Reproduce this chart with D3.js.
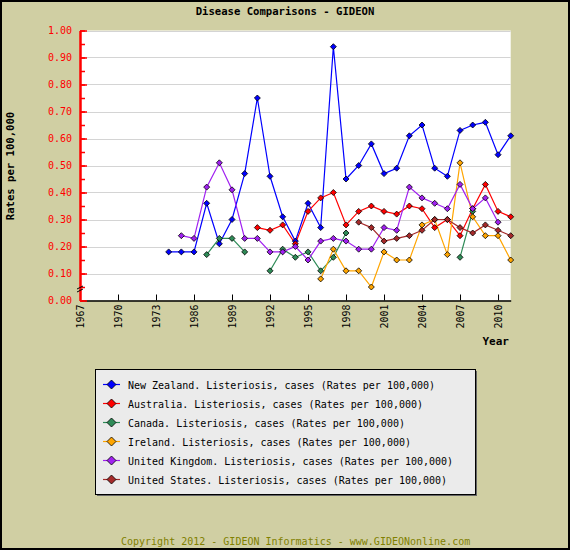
<!DOCTYPE html>
<html>
<head>
<meta charset="utf-8">
<script src="https://cdn.jsdelivr.net/npm/d3@7"></script>
<style>
  body { margin: 0; background: #fff; }
  svg { display: block; }
  text { font-family: "DejaVu Sans Mono", monospace; }
</style>
</head>
<body>
<svg id="chart" width="570" height="550"></svg>
<script>
// categories (the axis only labels every third one)
var years = ["1967","1968","1969","1970","1971","1972","1973","1984","1985",
  "1986","1987","1988","1989","1990","1991","1992","1993","1994","1995","1996",
  "1997","1998","1999","2000","2001","2002","2003","2004","2005","2006","2007",
  "2008","2009","2010","2011"];
var yTicks = [0, 0.1, 0.2, 0.3, 0.4, 0.5, 0.6, 0.7, 0.8, 0.9, 1.0];

var _ = null;
// one value per category, null = no data
var newZealand = [_,_,_,_,_,_,_, 0.18,0.18,0.18,0.36,0.21,0.30,0.47,0.75,0.46,0.31,0.22,0.36,0.27,
  0.94,0.45,0.50,0.58,0.47,0.49,0.61,0.65,0.49,0.46,0.63,0.65,0.66,0.54,0.61];
var australia = [_,_,_,_,_,_,_, _,_,_,_,_,_,_,0.27,0.26,0.28,0.21,0.33,0.38,
  0.40,0.28,0.33,0.35,0.33,0.32,0.35,0.34,0.27,0.30,0.24,0.34,0.43,0.33,0.31];
var canada = [_,_,_,_,_,_,_, _,_,_,0.17,0.23,0.23,0.18,_,0.11,0.19,0.16,0.18,0.11,
  0.16,0.25,_,_,_,_,_,_,_,_,0.16,0.33,_,_,_];
var ireland = [_,_,_,_,_,_,_, _,_,_,_,_,_,_,_,_,_,_,_,0.08,
  0.19,0.11,0.11,0.05,0.18,0.15,0.15,0.28,0.30,0.17,0.51,0.31,0.24,0.24,0.15];
var unitedKingdom = [_,_,_,_,_,_,_, _,0.24,0.23,0.42,0.51,0.41,0.23,0.23,0.18,0.18,0.20,0.15,0.22,
  0.23,0.22,0.19,0.19,0.27,0.26,0.42,0.38,0.36,0.34,0.43,0.34,0.38,0.29,_];
var unitedStates = [_,_,_,_,_,_,_, _,_,_,_,_,_,_,_,_,_,_,_,_,
  _,_,0.29,0.27,0.22,0.23,0.24,0.26,0.30,0.30,0.27,0.25,0.28,0.26,0.24];

var seriesNames = ["New Zealand", "Australia", "Canada", "Ireland", "United Kingdom", "United States"];
var seriesValues = [newZealand, australia, canada, ireland, unitedKingdom, unitedStates];
var seriesColors = ["#0000ff", "#ff0000", "#2e8b57", "#ffa500", "#a020f0", "#a52a2a"];

var W = 570, H = 550;
var svg = d3.select("#chart");

// background + frame
svg.append("rect").attr("x",0).attr("y",0).attr("width",W).attr("height",H)
  .attr("fill","#d0cfa3");
svg.append("rect").attr("x",1).attr("y",1).attr("width",W-2).attr("height",H-2)
  .attr("fill","none").attr("stroke","#000").attr("stroke-width",2);

var plotLeft = 80, plotRight = 510.7, plotTop = 30.5, plotBottom = 300.5;

var x = d3.scalePoint().domain(years).range([plotLeft, plotRight]);
var y = d3.scaleLinear().domain([0, 1]).range([plotBottom, plotTop]);

// plot area
svg.append("rect").attr("x",plotLeft).attr("y",plotTop)
  .attr("width",plotRight-plotLeft).attr("height",plotBottom-plotTop)
  .attr("fill","#fff");

// grid
svg.append("g").selectAll("line").data(yTicks.slice(1)).join("line")
  .attr("x1",plotLeft).attr("x2",plotRight)
  .attr("y1",function(d){return Math.round(y(d))+0.5;})
  .attr("y2",function(d){return Math.round(y(d))+0.5;})
  .attr("stroke","#d4d4d4").attr("stroke-width",1);

// title
svg.append("text").attr("x",W/2).attr("y",15).attr("text-anchor","middle")
  .attr("font-size",10.6).attr("font-weight","bold").text("Disease Comparisons - GIDEON");

// y axis title
svg.append("text").attr("transform","translate(14,166) rotate(-90)")
  .attr("text-anchor","middle").attr("font-size",10.6).attr("font-weight","bold")
  .text("Rates per 100,000");

// x axis
var labelled = years.filter(function(d,i){return i % 3 == 0;});
var xAxis = svg.append("g").attr("transform","translate(0,"+plotBottom+")")
  .call(d3.axisBottom(x).tickValues(labelled).tickSize(-6).tickSizeOuter(0));
xAxis.select(".domain").attr("stroke","#000").attr("stroke-width",1.5);
xAxis.selectAll(".tick line").attr("stroke","#000");
xAxis.selectAll(".tick text")
  .attr("transform","rotate(-90)").attr("x",-4).attr("y",0).attr("dy","0.35em")
  .attr("text-anchor","end").attr("font-size",10).attr("font-family","DejaVu Sans Mono")
  .attr("fill","#000");

svg.append("text").attr("x",509).attr("y",345).attr("text-anchor","end")
  .attr("font-size",11).attr("font-weight","bold").text("Year");

// y axis (red), minor then major ticks pointing inward
var yMinor = svg.append("g").attr("transform","translate("+plotLeft+",0)")
  .call(d3.axisLeft(y).ticks(20).tickSize(-5).tickSizeOuter(0).tickFormat(""));
yMinor.select(".domain").remove();
yMinor.selectAll(".tick line").attr("stroke","#ff0000").attr("stroke-width",1.5);

var yAxis = svg.append("g").attr("transform","translate("+plotLeft+",0)")
  .call(d3.axisLeft(y).tickValues(yTicks).tickSize(-7).tickSizeOuter(0)
    .tickPadding(8).tickFormat(d3.format(".2f")));
yAxis.select(".domain").attr("stroke","#ff0000").attr("stroke-width",2.5);
yAxis.selectAll(".tick line").attr("stroke","#ff0000").attr("stroke-width",1.5);
yAxis.selectAll(".tick text").attr("fill","#ff0000").attr("font-size",10)
  .attr("font-family","DejaVu Sans Mono");

// axis break mark
svg.append("path").attr("d","M77,289 L83,286 M77,292 L83,289")
  .attr("stroke","#000").attr("stroke-width",1).attr("fill","none");

// lines
var line = d3.line()
  .defined(function(d){return d != null;})
  .x(function(d,i){return x(years[i]);})
  .y(function(d){return y(d);});

function diamond(r) {
  return "M0,"+(-r)+"L"+r+",0L0,"+r+"L"+(-r)+",0Z";
}

seriesValues.forEach(function(vals, k) {
  svg.append("path").datum(vals).attr("d", line)
    .attr("fill","none").attr("stroke",seriesColors[k]).attr("stroke-width",1.2);
});
seriesValues.forEach(function(vals, k) {
  var pts = vals.map(function(v,i){return {v:v, i:i};}).filter(function(d){return d.v != null;});
  svg.append("g").selectAll("path").data(pts).join("path")
    .attr("transform",function(d){return "translate("+x(years[d.i])+","+y(d.v)+")";})
    .attr("d", diamond(3))
    .attr("fill",seriesColors[k]).attr("stroke","#000").attr("stroke-width",0.8);
});

// legend
var lgX = 95, lgY = 369, lgW = 380, lgH = 125;
svg.append("rect").attr("x",lgX+2).attr("y",lgY+2).attr("width",lgW).attr("height",lgH)
  .attr("fill","#666");
svg.append("rect").attr("x",lgX+0.5).attr("y",lgY+0.5).attr("width",lgW).attr("height",lgH)
  .attr("fill","#ebebeb").attr("stroke","#000").attr("stroke-width",1);

var rows = svg.append("g").selectAll("g").data(seriesNames).join("g")
  .attr("transform",function(d,i){return "translate(0,"+(384.5+i*19)+")";});
rows.append("line").attr("x1",103).attr("x2",120).attr("y1",0).attr("y2",0)
  .attr("stroke",function(d,i){return seriesColors[i];}).attr("stroke-width",1.2);
rows.append("path").attr("transform","translate(111.5,0)").attr("d",diamond(4.5))
  .attr("fill",function(d,i){return seriesColors[i];}).attr("stroke","#000").attr("stroke-width",0.8);
rows.append("text").attr("x",128).attr("y",4).attr("font-size",10)
  .text(function(d){return d + ". Listeriosis, cases (Rates per 100,000)";});

// footer
svg.append("text").attr("x",121).attr("y",545).attr("font-size",10).attr("fill","#808000")
  .text("Copyright 2012 - GIDEON Informatics - www.GIDEONonline.com");
</script>
</body>
</html>
